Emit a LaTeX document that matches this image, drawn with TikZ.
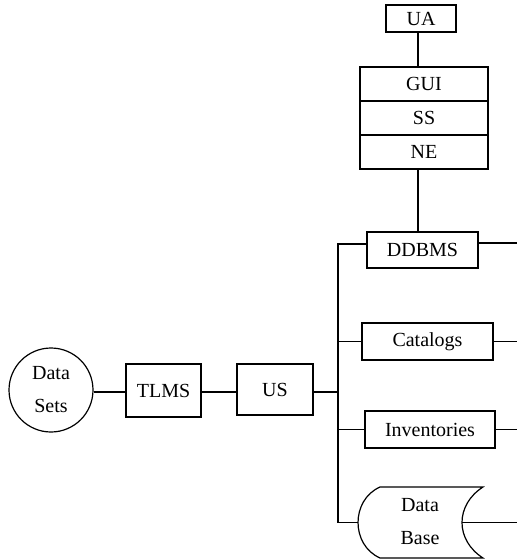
\documentclass[tikz,border=0pt]{standalone}
\usepackage{fontspec}
\setmainfont{Liberation Serif}
\begin{document}
\begin{tikzpicture}[x=1pt,y=-1pt,line width=1.2pt,
  box/.style={draw,rectangle,inner sep=0pt,font=\fontsize{20}{24}\selectfont},
  lbl/.style={inner sep=0pt,align=center,font=\fontsize{20}{33}\selectfont}]
\useasboundingbox (0,0) rectangle (517,560);
% top stack
\node[box,minimum width=70pt,minimum height=27pt] (ua) at (421,18.5) {UA};
\node[box,minimum width=128pt,minimum height=34pt] (gui) at (424,84) {GUI};
\node[box,minimum width=128pt,minimum height=34pt] (ss) at (424,118) {SS};
\node[box,minimum width=128pt,minimum height=34pt] (ne) at (424,152) {NE};
% right column
\node[box,minimum width=111pt,minimum height=36pt] (ddbms) at (422.5,250) {DDBMS};
\node[box,minimum width=131pt,minimum height=37pt] (cat) at (427.5,341.5) {Catalogs};
\node[box,minimum width=130pt,minimum height=37pt] (inv) at (430,429.5) {Inventories};
% left chain
\node[draw,circle,minimum size=84pt,inner sep=0pt,lbl] (ds) at (51,390) {Data\\Sets};
\node[box,minimum width=75pt,minimum height=53pt] (tlms) at (163.5,390.5) {TLMS};
\node[box,minimum width=76pt,minimum height=51pt] (us) at (275,389.5) {US};
% data base (stored data symbol)
\draw (380,487) -- (483,487)
      .. controls (455,505) and (455,540) .. (483,558)
      -- (380,558)
      .. controls (350.7,545) and (350.7,500) .. (380,487);
\node[lbl] (db) at (420,522) {Data\\Base};
\coordinate (dbw) at (358,522.5);
\coordinate (dbe) at (462,522.5);
% bus
\coordinate (bustop) at (338,244);
\coordinate (busbot) at (338,522.5);
\coordinate (usbus) at (338,392);
% free ends at the right edge
\coordinate (r1) at (517,243);
\coordinate (r2) at (517,341.5);
\coordinate (r3) at (517,429.5);
\coordinate (r4) at (517,522.5);
% connectors
\draw (ua.south -| 418,0) -- (gui.north -| 418,0);
\draw (ne.south -| 418,0) -- (ddbms.north -| 418,0);
\draw (ds.east |- 0,392) -- (tlms.west |- 0,392);
\draw (tlms.east |- 0,392) -- (us.west |- 0,392);
\draw (us.east |- usbus) -- (usbus);
\draw (ddbms.west |- bustop) -- (bustop) -- (busbot) -- (dbw);
\draw (cat.west) -- (cat.west -| bustop);
\draw (inv.west) -- (inv.west -| bustop);
\draw (ddbms.east |- r1) -- (r1);
\draw (cat.east) -- (r2);
\draw (inv.east) -- (r3);
\draw (dbe) -- (r4);
\end{tikzpicture}
\end{document}
